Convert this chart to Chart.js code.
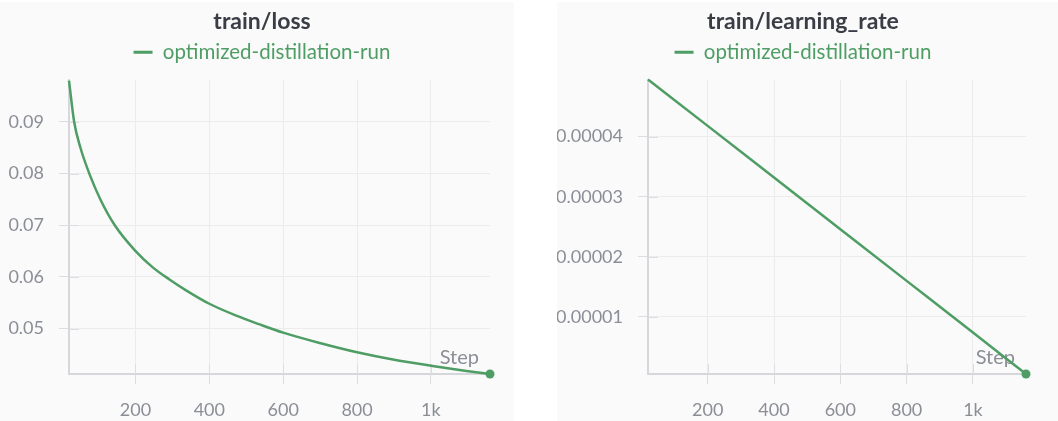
<!DOCTYPE html>
<html>
<head>
<meta charset="utf-8">
<script src="https://cdn.jsdelivr.net/npm/chart.js@4.4.1/dist/chart.umd.min.js"></script>
<style>
  html, body { margin: 0; padding: 0; background: #fff; }
  body { width: 1058px; height: 421px; position: relative; overflow: hidden; }
  .panel { position: absolute; top: 2px; height: 419px; background: #fafafa; }
  #lossPanel { left: 0; width: 514px; }
  #lrPanel { left: 557px; width: 501px; }
</style>
</head>
<body>
<div class="panel" id="lossPanel"><canvas id="loss"></canvas></div>
<div class="panel" id="lrPanel"><canvas id="lr"></canvas></div>
<script>
const runName = "optimized-distillation-run";

// train/loss
const lossSteps = [20, 34, 51, 75, 105, 144, 199, 246, 292, 337, 400, 473, 536, 600, 699, 800, 897, 1000, 1096, 1160];
const lossValues = [0.0980, 0.0900, 0.0850, 0.0800, 0.0750, 0.0700, 0.0651, 0.0619, 0.0595, 0.0574, 0.0548, 0.0525, 0.0508, 0.0492, 0.0472, 0.0454, 0.0440, 0.0428, 0.0418, 0.0412];

// train/learning_rate
const lrSteps = [20, 200, 400, 600, 800, 1000, 1160];
const lrValues = [0.0000495, 0.0000418, 0.0000332, 0.0000246, 0.0000160, 0.0000074, 0.0000005];

const stepTicks = [200, 400, 600, 800, 1000];
const stepTickLabels = ["200", "400", "600", "800", "1k"];
const lossTicks = [0.05, 0.06, 0.07, 0.08, 0.09];
const lossTickLabels = ["0.05", "0.06", "0.07", "0.08", "0.09"];
const lrTicks = [0.00001, 0.00002, 0.00003, 0.00004];
const lrTickLabels = ["0.00001", "0.00002", "0.00003", "0.00004"];

const green = "#4e9d64";
const tickText = "#8b8e96";
const gridColor = "#ececec";
const tickMark = "#dcdde0";
const axisColor = "#d5d7db";
const family = "Lato, 'Noto Sans', sans-serif";

// W&B puts the x axis name inside the plot, bottom right
const stepLabel = {
  id: "stepLabel",
  beforeDatasetsDraw(chart) {
    const { ctx, chartArea } = chart;
    ctx.save();
    ctx.font = "20px " + family;
    ctx.fillStyle = tickText;
    ctx.textAlign = "right";
    ctx.textBaseline = "alphabetic";
    ctx.fillText("Step", chartArea.right - 11, chartArea.bottom - 10);
    ctx.restore();
  },
};

// tick marks that also reach into the plot
const innerTicks = {
  id: "innerTicks",
  beforeDatasetsDraw(chart) {
    const { ctx, chartArea, scales } = chart;
    ctx.save();
    ctx.strokeStyle = tickMark;
    ctx.lineWidth = 1;
    ctx.beginPath();
    scales.x.ticks.forEach((t) => {
      const px = Math.round(scales.x.getPixelForValue(t.value)) + 0.5;
      ctx.moveTo(px, chartArea.bottom);
      ctx.lineTo(px, chartArea.bottom - 10);
    });
    scales.y.ticks.forEach((t) => {
      const py = Math.round(scales.y.getPixelForValue(t.value)) + 0.5;
      ctx.moveTo(chartArea.left, py);
      ctx.lineTo(chartArea.left + 10, py);
    });
    ctx.stroke();
    ctx.restore();
  },
};

// extra room under the legend, and let y labels reach the canvas edge
const panelLayout = {
  id: "panelLayout",
  afterInit(chart) {
    const legend = chart.legend;
    const fit = legend.fit;
    legend.fit = function () {
      fit.call(this);
      this.height += 7;
    };
  },
  afterLayout(chart) {
    chart.scales.y.left = 0;
  },
};

function makeChart(id, title, steps, values, yTicks, yLabels, yMin, yMax, box) {
  const points = steps.map((s, i) => ({ x: s, y: values[i] }));
  return new Chart(document.getElementById(id), {
    type: "line",
    data: {
      datasets: [{
        label: runName,
        data: points,
        borderColor: green,
        backgroundColor: green,
        borderWidth: 2.5,
        pointRadius: steps.map((_, i) => (i === steps.length - 1 ? 4.5 : 0)),
        pointBackgroundColor: green,
        pointBorderWidth: 0,
        cubicInterpolationMode: "monotone",
        clip: false,
      }],
    },
    options: {
      responsive: true,
      maintainAspectRatio: false,
      animation: false,
      layout: { padding: { left: box.padLeft, right: box.padRight, top: 0, bottom: 0 } },
      plugins: {
        title: {
          display: true,
          text: title,
          color: "#3a3d46",
          font: { family, size: 23, weight: "bold" },
          padding: { top: 6, bottom: 0 },
        },
        legend: {
          labels: {
            color: green,
            font: { family, size: 20.5 },
            usePointStyle: true,
            pointStyle: "line",
            pointStyleWidth: 19,
            padding: 6.5,
            generateLabels: (chart) =>
              Chart.defaults.plugins.legend.labels.generateLabels(chart)
                .map((l) => ({ ...l, lineWidth: 3, strokeStyle: green })),
          },
        },
        tooltip: { enabled: false },
      },
      scales: {
        x: {
          type: "linear",
          min: 20,
          max: 1160,
          afterBuildTicks: (s) => { s.ticks = stepTicks.map((v) => ({ value: v })); },
          afterFit: (s) => { s.height = 47; },
          ticks: {
            callback: (v) => stepTickLabels[stepTicks.indexOf(v)],
            color: tickText,
            font: { family, size: 18 },
            padding: 15,
            maxRotation: 0,
            autoSkip: false,
          },
          grid: { color: gridColor, tickColor: tickMark, tickLength: 10 },
          border: { color: axisColor, width: 2 },
        },
        y: {
          min: yMin,
          max: yMax,
          afterBuildTicks: (s) => { s.ticks = yTicks.map((v) => ({ value: v })); },
          afterFit: (s) => { s.width = box.axisWidth; },
          ticks: {
            callback: (v) => yLabels[yTicks.indexOf(v)],
            color: tickText,
            font: { family, size: 18 },
            padding: 15,
            autoSkip: false,
          },
          grid: { color: gridColor, tickColor: tickMark, tickLength: 10 },
          border: { color: axisColor, width: 2 },
        },
      },
    },
    plugins: [panelLayout, stepLabel, innerTicks],
  });
}

makeChart("loss", "train/loss", lossSteps, lossValues, lossTicks, lossTickLabels, 0.0412, 0.0982,
  { padLeft: 34, padRight: 24, axisWidth: 35 });
makeChart("lr", "train/learning_rate", lrSteps, lrValues, lrTicks, lrTickLabels, 0.0000005, 0.0000495,
  { padLeft: 23, padRight: 32, axisWidth: 68 });
</script>
</body>
</html>
